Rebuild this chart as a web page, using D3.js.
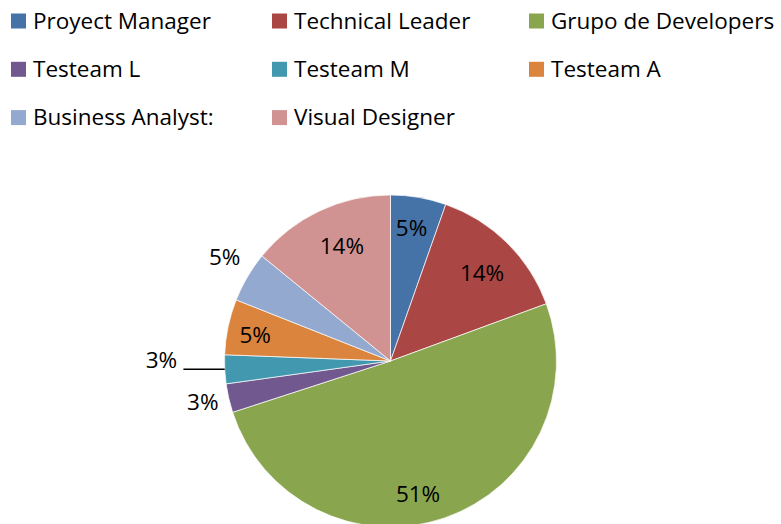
<!DOCTYPE html>
<html>
<head>
<meta charset="utf-8">
<script src="https://cdn.jsdelivr.net/npm/d3@7"></script>
<style>
  body { margin: 0; background: #fff; }
  text { font-family: "Open Sans", Lato, sans-serif; fill: #000; }
</style>
</head>
<body>
<div id="chart"></div>
<script>
// data
const roles = ['Proyect Manager', 'Technical Leader', 'Grupo de Developers',
               'Testeam L', 'Testeam M', 'Testeam A',
               'Business Analyst:', 'Visual Designer'];
const shares = [5.4, 14.0, 50.6, 2.8, 2.8, 5.4, 4.9, 14.1];
const colors = ['#4572A7', '#AA4643', '#89A54E', '#71588F',
                '#4198AF', '#DB843D', '#93A9CF', '#D19392'];

const data = roles.map((r, i) => ({ role: r, value: shares[i] }));

let width = 781, height = 524;
let cx = 390.5, cy = 361, radius = 166;

// label placement (radius factor, angle nudge in degrees)
const labelPos = {
  'Proyect Manager':     { k: 0.81, da: -0.7 },
  'Technical Leader':    { k: 0.765, da: 1.5 },
  'Grupo de Developers': { k: 0.82, da: 7.4 },
  'Testeam L':           { k: 1.157, da: 0.7 },
  'Testeam M':           { k: 1.38, da: 3.1, leader: true },
  'Testeam A':           { k: 0.83, da: -1.0 },
  'Business Analyst:':   { k: 1.18, da: 1.7 },
  'Visual Designer':     { k: 0.75, da: 2.4 }
};

let svg = d3.select('#chart')
    .append('svg')
    .attr('width', width)
    .attr('height', height);

const color = d3.scaleOrdinal().domain(roles).range(colors);

// legend
const legendCols = [11, 272, 529];
const rowStep = 48.3;
let legend = svg.append('g')
    .selectAll('g')
    .data(roles)
    .enter()
    .append('g')
    .attr('transform', (d, i) => `translate(${legendCols[i % 3]}, ${13.5 + Math.floor(i / 3) * rowStep})`);

legend.append('rect')
    .attr('width', 15)
    .attr('height', 15)
    .attr('fill', d => color(d));

legend.append('text')
    .attr('x', 22)
    .attr('y', 7.5)
    .attr('dy', '0.35em')
    .style('font-size', '22.5px')
    .text(d => d);

// pie
const pie = d3.pie().sort(null).value(d => d.value);
const arc = d3.arc().innerRadius(0).outerRadius(radius);
const arcs = pie(data);
const total = d3.sum(shares);

let g = svg.append('g').attr('transform', `translate(${cx}, ${cy})`);

g.selectAll('path')
    .data(arcs)
    .enter()
    .append('path')
    .attr('d', arc)
    .attr('fill', d => color(d.data.role))
    .attr('stroke', '#fff')
    .attr('stroke-width', 0.7);

// labels
function labelXY(d) {
  const p = labelPos[d.data.role];
  const a = (d.startAngle + d.endAngle) / 2 + p.da * Math.PI / 180;
  const r = radius * p.k;
  return [r * Math.sin(a), -r * Math.cos(a)];
}

g.selectAll('text.pct')
    .data(arcs)
    .enter()
    .append('text')
    .attr('class', 'pct')
    .attr('x', d => labelXY(d)[0])
    .attr('y', d => labelXY(d)[1])
    .attr('dy', '0.35em')
    .attr('text-anchor', 'middle')
    .style('font-size', '22.5px')
    .text(d => Math.round(d.data.value / total * 100) + '%');

// leader line for the small slice
arcs.filter(d => labelPos[d.data.role].leader).forEach(d => {
  const a = (d.startAngle + d.endAngle) / 2;
  const x0 = radius * Math.sin(a), y0 = -radius * Math.cos(a);
  const lx = labelXY(d)[0];
  g.append('line')
      .attr('x1', x0).attr('y1', y0)
      .attr('x2', lx + 22).attr('y2', y0)
      .attr('stroke', '#000')
      .attr('stroke-width', 1.5);
});
</script>
</body>
</html>
